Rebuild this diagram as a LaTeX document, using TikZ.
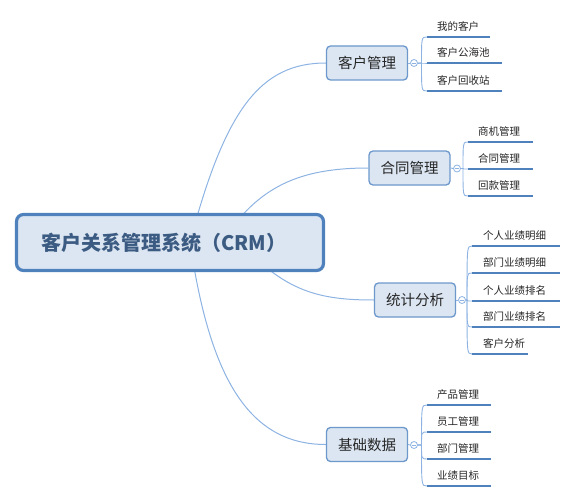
\documentclass[tikz,border=0pt]{standalone}
\usepackage{fontspec}
\setmainfont{Noto Sans CJK SC}
\usetikzlibrary{backgrounds,calc}
\definecolor{rootblue}{HTML}{4F81BD}
\definecolor{rootfill}{HTML}{DCE6F2}
\definecolor{roottext}{HTML}{3B5B82}
\definecolor{brblue}{HTML}{6C98CC}
\definecolor{brfill}{HTML}{DCE6F2}
\definecolor{lineblue}{HTML}{8DB3E2}
\definecolor{ulblue}{HTML}{4F81BD}
\definecolor{txt}{HTML}{262626}
\tikzset{
  rootbox/.style={draw=rootblue, line width=3.2pt, fill=rootfill, rounded corners=7pt,
    minimum width=307pt, minimum height=56pt, inner sep=0pt,
    font=\fontsize{20}{24}\selectfont\bfseries, text=roottext},
  branchbox/.style={draw=brblue, line width=1.3pt, fill=brfill, rounded corners=4pt,
    inner sep=0pt, minimum width=81pt, minimum height=34pt,
    font=\fontsize{14.5}{17}\selectfont, text=txt},
  collapse/.style={circle, draw=lineblue, fill=white, line width=0.8pt,
    minimum size=7pt, inner sep=0pt},
  leaftext/.style={anchor=base west, inner sep=0pt,
    font=\fontsize{10.5}{12}\selectfont, text=txt},
  conn/.style={draw=lineblue, line width=1pt},
  forkline/.style={draw=lineblue, line width=0.9pt},
  uline/.style={draw=ulblue, line width=1.9pt},
}
\begin{document}
\begin{tikzpicture}[x=1pt,y=-1pt]
\useasboundingbox (0,0) rectangle (575,500);

% root
\node[rootbox] (root) at (170,242.5) {客户关系管理系统（CRM）\hspace*{12pt}};

% branches
\node[branchbox] (b1) at (367,63) {客户管理};
\node[branchbox] (b2) at (409.5,168) {合同管理};
\node[branchbox] (b3) at (415,300) {统计分析};
\node[branchbox] (b4) at (367,444.5) {基础数据};

% collapse circles
\node[collapse] (c1) at (414,63) {};
\node[collapse] (c2) at (457,168.5) {};
\node[collapse] (c3) at (462,300) {};
\node[collapse] (c4) at (414,445) {};
\foreach \c in {c1,c2,c3,c4}{
  \draw[draw=lineblue, line width=0.7pt] ([xshift=-2pt]\c.center) -- ([xshift=2pt]\c.center);
}

% root connectors
\begin{scope}[on background layer]
\coordinate (r1) at (190,242);
\coordinate (r2) at (222,242);
\coordinate (r3) at (240,242);
\coordinate (r4) at (190,242);
\draw[conn] (r1) .. controls (225,110) and (260,63) .. (b1.west);
\draw[conn] (r2) .. controls (258,186) and (300,168) .. (b2.west);
\draw[conn] (r3) .. controls (285,292) and (320,300) .. (b3.west);
\draw[conn] (r4) .. controls (210,380) and (250,444.5) .. (b4.west);
\end{scope}

% box to circle
\draw[forkline] (b1.east) -- (c1.west);
\draw[forkline] (b2.east) -- (c2.west);
\draw[forkline] (b3.east) -- (c3.west);
\draw[forkline] (b4.east) -- (c4.west);

% group 1
\foreach \y/\e/\t/\n in {37/490/我的客户/a, 63/502/客户公海池/b, 91/502/客户回收站/c}{
  \node[leaftext] (l1\n) at (437,\y-6.5) {\t};
  \coordinate (u1\n) at (427,\y);
  \coordinate (e1\n) at (\e,\y);
  \draw[forkline] (c1.east) -- (421.5,63) .. controls (421.5,\y) .. (u1\n);
  \draw[uline] (u1\n) -- (e1\n);
}

% group 2
\foreach \y/\e/\t/\n in {142/533/商机管理/a, 169/533/合同管理/b, 196/533/回款管理/c}{
  \node[leaftext] (l2\n) at (478,\y-6.5) {\t};
  \coordinate (u2\n) at (468,\y);
  \coordinate (e2\n) at (\e,\y);
  \draw[forkline] (c2.east) -- (463,168.5) .. controls (463,\y) .. (u2\n);
  \draw[uline] (u2\n) -- (e2\n);
}

% group 3
\foreach \y/\e/\t/\n in {246/560/个人业绩明细/a, 273/560/部门业绩明细/b, 301/560/个人业绩排名/c, 327/560/部门业绩排名/d, 354/528/客户分析/e}{
  \node[leaftext] (l3\n) at (483,\y-6.5) {\t};
  \coordinate (u3\n) at (472,\y);
  \coordinate (e3\n) at (\e,\y);
  \draw[forkline] (c3.east) -- (467,300) .. controls (467,\y) .. (u3\n);
  \draw[uline] (u3\n) -- (e3\n);
}

% group 4
\foreach \y/\e/\t/\n in {405/491/产品管理/a, 432/491/员工管理/b, 459/491/部门管理/c, 486/491/业绩目标/d}{
  \node[leaftext] (l4\n) at (437,\y-6.5) {\t};
  \coordinate (u4\n) at (427,\y);
  \coordinate (e4\n) at (\e,\y);
  \draw[forkline] (c4.east) -- (421.5,445) .. controls (421.5,\y) .. (u4\n);
  \draw[uline] (u4\n) -- (e4\n);
}
\end{tikzpicture}
\end{document}
